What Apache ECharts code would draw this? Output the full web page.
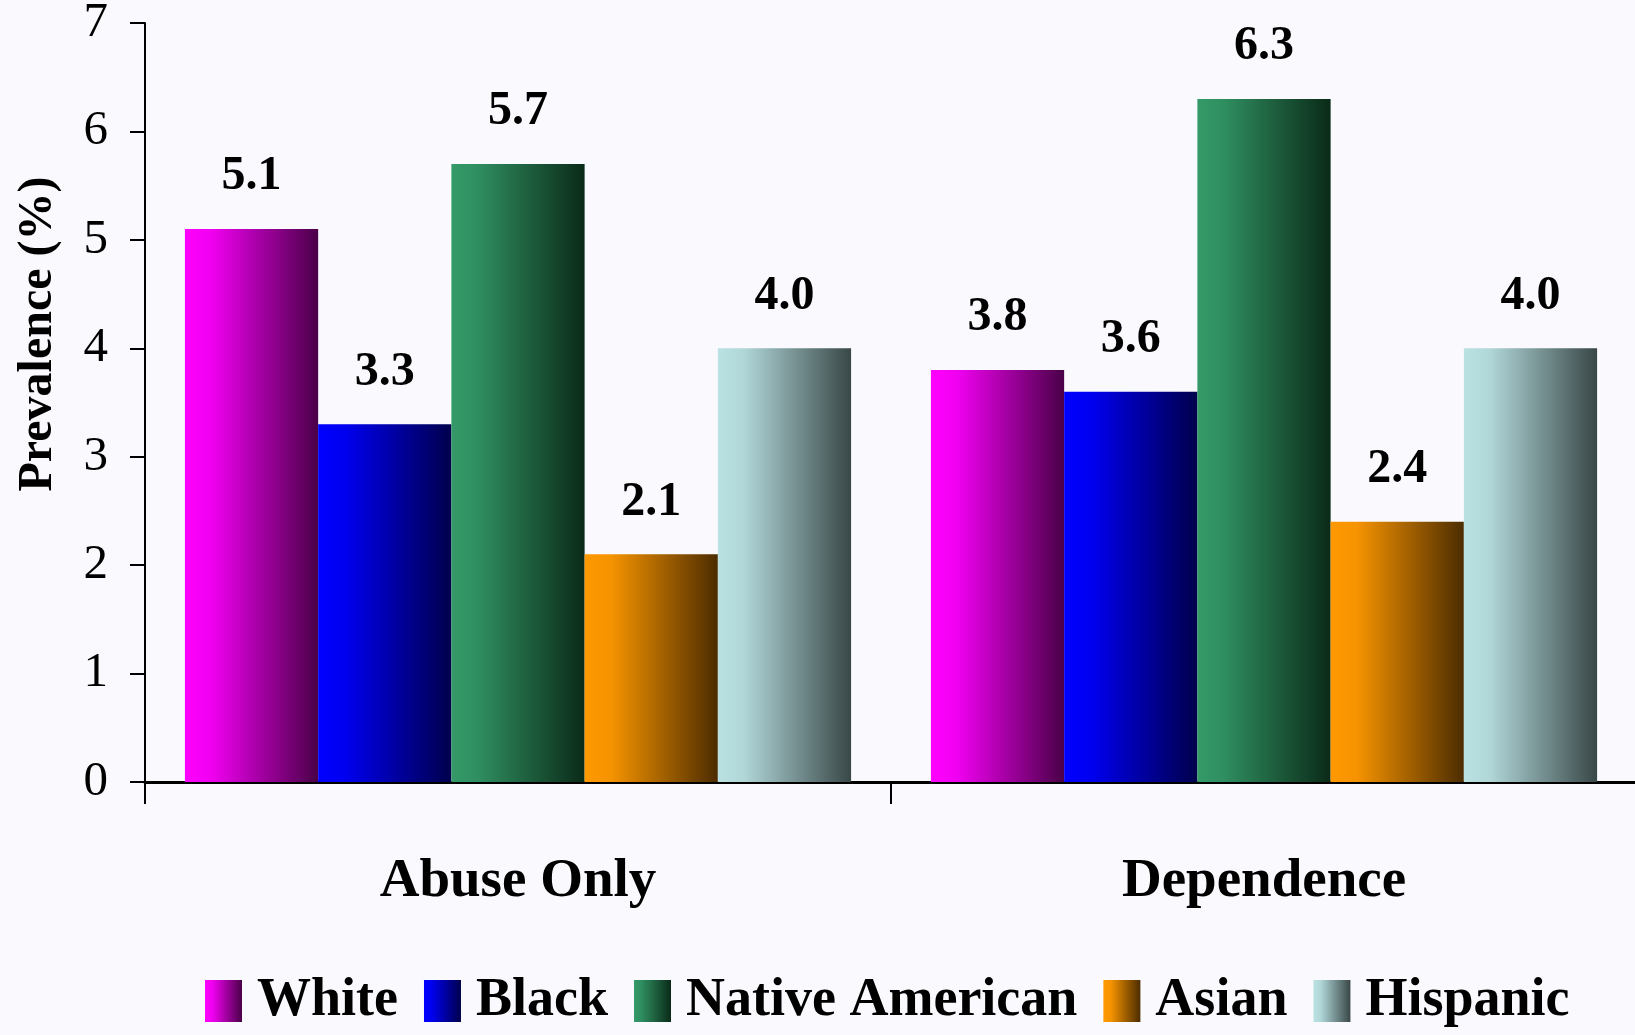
<!DOCTYPE html>
<html><head><meta charset="utf-8">
<script src="https://cdn.jsdelivr.net/npm/echarts@6/dist/echarts.min.js"></script>
<style>html,body{margin:0;padding:0;background:#f9f9fe;overflow:hidden;}#c{width:1635px;height:1035px;}</style>
</head><body><div id="c"></div>
<script>
const categories = ['Abuse Only', 'Dependence'];
const seriesNames = ['White', 'Black', 'Native American', 'Asian', 'Hispanic'];
const white = [5.1, 3.8];
const black = [3.3, 3.6];
const nativeAmerican = [5.7, 6.3];
const asian = [2.1, 2.4];
const hispanic = [4.0, 4.0];
const yTicks = [0, 1, 2, 3, 4, 5, 6, 7];

const values = [white, black, nativeAmerican, asian, hispanic];
const gradStops = [
  ['#ff00ff', '#f000f0', '#4a0048'],
  ['#0000ff', '#0000f0', '#00004c'],
  ['#349a68', '#2f8e60', '#0a2a18'],
  ['#ff9900', '#f59300', '#4c2c00'],
  ['#bae2e3', '#b0d6d8', '#394747']
];
const FONT = '"Liberation Serif", "Times New Roman", serif';
function grad(c) {
  return new echarts.graphic.LinearGradient(0, 0, 1, 0, [
    {offset: 0, color: c[0]}, {offset: 0.2, color: c[1]}, {offset: 1, color: c[2]}
  ]);
}
const chart = echarts.init(document.getElementById('c'));
chart.setOption({
  backgroundColor: '#f9f9fe',
  animation: false,
  grid: {left: 145, right: -2, top: 23, bottom: 253, outerBoundsMode: 'none', containLabel: false},
  legend: {
    data: seriesNames,
    top: 969, left: 200,
    icon: 'rect',
    itemWidth: 37, itemHeight: 42, itemGap: 26,
    textStyle: {fontFamily: FONT, fontWeight: 'bold', fontSize: 54, color: '#000', padding: [0, 0, 0, 10]}
  },
  xAxis: {
    type: 'category', data: categories,
    axisLine: {lineStyle: {color: '#000', width: 3}},
    axisTick: {show: true, length: 22, lineStyle: {color: '#000', width: 2}},
    axisLabel: {fontFamily: FONT, fontWeight: 'bold', fontSize: 55, color: '#000', margin: 72}
  },
  yAxis: {
    type: 'value', min: 0, max: 7, interval: 1,
    name: 'Prevalence (%)', nameLocation: 'middle', nameGap: 82,
    nameTextStyle: {fontFamily: FONT, fontWeight: 'bold', fontSize: 48, color: '#000', padding: [0, 0, 0, 137]},
    axisLine: {show: true, lineStyle: {color: '#000', width: 2}},
    axisTick: {show: true, length: 15, lineStyle: {color: '#000', width: 2}},
    axisLabel: {fontFamily: FONT, fontSize: 49, color: '#000', margin: 37,
      formatter: v => yTicks.includes(v) ? String(v) : ''},
    splitLine: {show: false}
  },
  series: seriesNames.map((n, i) => ({
    name: n, type: 'bar', data: values[i],
    barGap: '0%', barCategoryGap: '10.7%',
    itemStyle: {color: grad(gradStops[i])},
    label: {show: true, position: 'top', distance: 28, fontFamily: FONT, fontWeight: 'bold', fontSize: 48, color: '#000',
      formatter: p => p.value.toFixed(1)}
  }))
});
</script></body></html>
